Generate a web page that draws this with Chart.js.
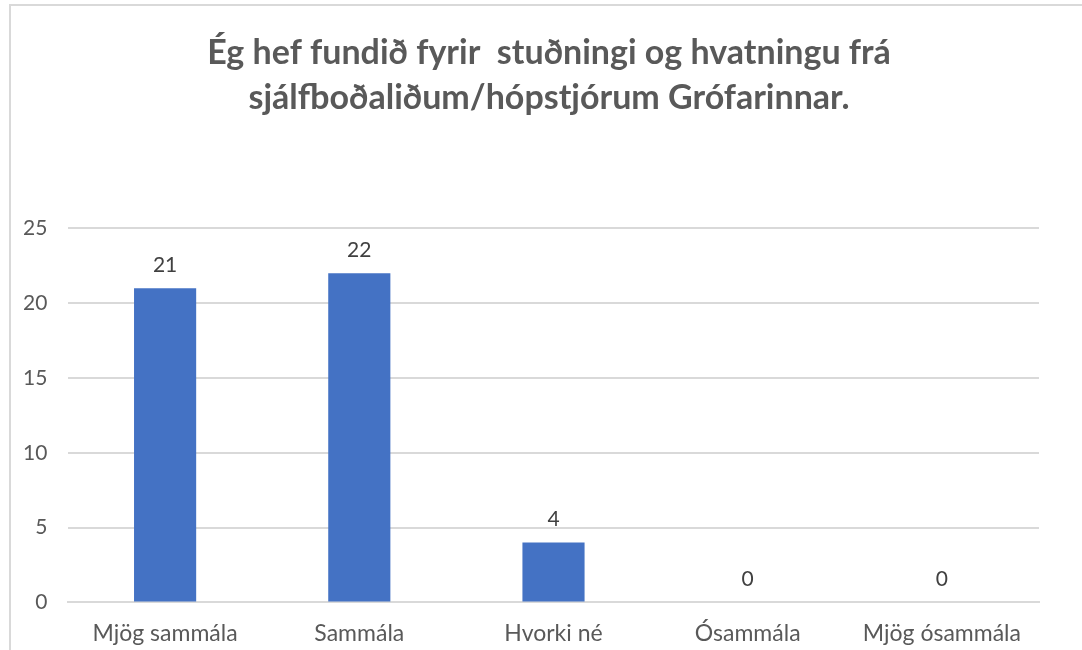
<!DOCTYPE html>
<html>
<head>
<meta charset="utf-8">
<script src="https://cdn.jsdelivr.net/npm/chart.js@4/dist/chart.umd.min.js"></script>
<style>
	body { margin: 0; background: #fff; }
	.canvas-container { position: relative; width: 1082px; height: 650px; }
	.frame { position: absolute; left: 9px; top: 4px; right: 0; bottom: 0; border-left: 2px solid #d9d9d9; border-top: 2px solid #d9d9d9; }
</style>
</head>
<body>
<div class="canvas-container">
	<div class="frame"></div>
	<canvas id="chart" width="1082" height="650"></canvas>
</div>
<script>
const titleLines = ["Ég hef fundið fyrir  stuðningi og hvatningu frá", "sjálfboðaliðum/hópstjórum Grófarinnar."];
const categories = ["Mjög sammála", "Sammála", "Hvorki né", "Ósammála", "Mjög ósammála"];
const counts = [21, 22, 4, 0, 0];
const yTicks = [0, 5, 10, 15, 20, 25];

const fontFamily = "Lato, 'Open Sans', sans-serif";

// value labels above each bar
const barLabels = {
	id: "barLabels",
	afterDatasetsDraw(chart) {
		const ctx = chart.ctx;
		const meta = chart.getDatasetMeta(0);
		ctx.save();
		ctx.font = "21px " + fontFamily;
		ctx.fillStyle = "#404040";
		ctx.textAlign = "center";
		ctx.textBaseline = "middle";
		meta.data.forEach((bar, i) => {
			ctx.fillText(String(counts[i]), bar.x, bar.y - 23);
		});
		ctx.restore();
	},
};

new Chart(document.getElementById("chart").getContext("2d"), {
	type: "bar",
	data: {
		labels: categories,
		datasets: [
			{
				data: counts,
				backgroundColor: "#4472c4",
				barPercentage: 0.64,
				categoryPercentage: 0.5,
			},
		],
	},
	options: {
		responsive: false,
		animation: false,
		// left padding keeps the title centred like the original; y axis is squeezed to match
		layout: { padding: { left: 59, right: 43, top: 0, bottom: -14 } },
		plugins: {
			legend: { display: false },
			tooltip: { enabled: false },
			title: {
				display: true,
				text: titleLines,
				color: "#595959",
				font: { family: fontFamily, size: 34, weight: "bold", lineHeight: 1.33 },
				padding: { top: 30, bottom: 108 },
			},
		},
		scales: {
			x: {
				grid: { display: false, drawTicks: false },
				border: { color: "#d9d9d9", width: 2 },
				ticks: {
					color: "#595959",
					font: { family: fontFamily, size: 23 },
					padding: 17,
					maxRotation: 0,
				},
			},
			y: {
				min: 0,
				max: 25,
				afterBuildTicks(axis) {
					axis.ticks = yTicks.map((v) => ({ value: v }));
				},
				afterFit(axis) {
					axis.width = 9;
				},
				grid: { color: "#d9d9d9", lineWidth: 2, drawTicks: false },
				border: { display: false },
				// mirrored so the labels are not clipped to the narrow axis box
				ticks: {
					mirror: true,
					crossAlign: "far",
					color: "#595959",
					font: { family: fontFamily, size: 21 },
					padding: -45,
				},
			},
		},
	},
	plugins: [barLabels],
});
</script>
</body>
</html>
